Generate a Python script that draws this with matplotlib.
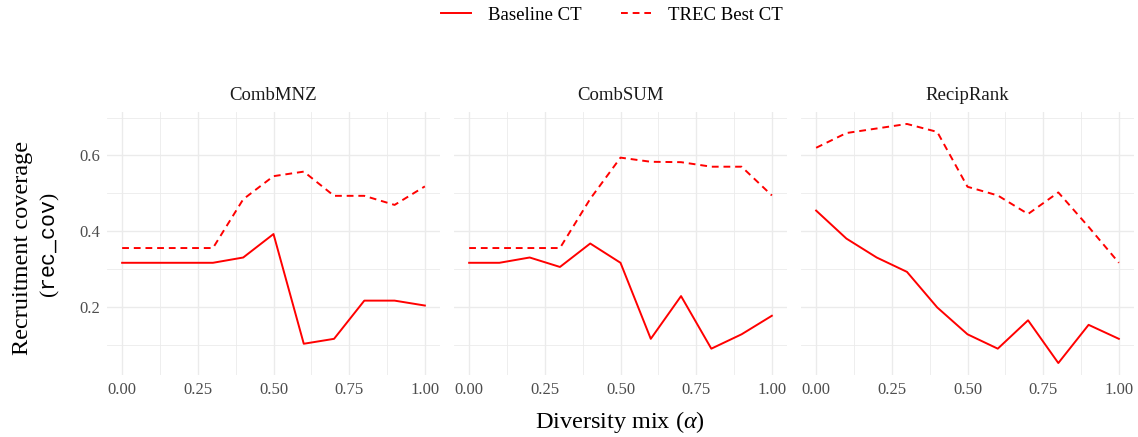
import matplotlib
matplotlib.use("Agg")
import matplotlib.pyplot as plt
from matplotlib.lines import Line2D
import numpy as np

plt.rcParams['font.family'] = ['Liberation Serif', 'DejaVu Serif']
plt.rcParams['mathtext.fontset'] = 'custom'
plt.rcParams['mathtext.rm'] = 'Liberation Serif'
plt.rcParams['mathtext.it'] = 'Liberation Serif:italic'
plt.rcParams['mathtext.tt'] = 'Liberation Mono'

alpha = [0.0, 0.1, 0.2, 0.3, 0.4, 0.5, 0.6, 0.7, 0.8, 0.9, 1.0]
panels = ["CombMNZ", "CombSUM", "RecipRank"]
series_names = ["Baseline CT", "TREC Best CT"]

combmnz_baseline = [0.316, 0.316, 0.316, 0.316, 0.330, 0.392, 0.102, 0.115, 0.216, 0.216, 0.203]
combmnz_trec = [0.355, 0.355, 0.355, 0.355, 0.484, 0.545, 0.557, 0.493, 0.493, 0.469, 0.518]
combsum_baseline = [0.316, 0.316, 0.330, 0.305, 0.367, 0.316, 0.115, 0.228, 0.089, 0.127, 0.176]
combsum_trec = [0.355, 0.355, 0.355, 0.355, 0.485, 0.594, 0.583, 0.582, 0.570, 0.570, 0.494]
reciprank_baseline = [0.454, 0.380, 0.330, 0.292, 0.198, 0.127, 0.089, 0.164, 0.051, 0.152, 0.115]
reciprank_trec = [0.620, 0.659, 0.671, 0.683, 0.662, 0.517, 0.494, 0.445, 0.502, 0.411, 0.316]

data = {
    "CombMNZ": (combmnz_baseline, combmnz_trec),
    "CombSUM": (combsum_baseline, combsum_trec),
    "RecipRank": (reciprank_baseline, reciprank_trec),
}

W, H = 1138, 437
fig = plt.figure(figsize=(W / 100, H / 100), dpi=100)

lefts = [107, 454, 801]
pw = 333
top, bottom = 112, 375
grid_col = '#EBEBEB'
tick_col = '#4D4D4D'
line_col = '#FF0000'
dash = (0, (3.5, 2.5))

allv = np.array(combmnz_baseline + combmnz_trec + combsum_baseline + combsum_trec + reciprank_baseline + reciprank_trec)
ymin, ymax = allv.min(), allv.max()
pad = (ymax - ymin) * 0.05

for i, name in enumerate(panels):
    ax = fig.add_axes([lefts[i] / W, 1 - bottom / H, pw / W, (bottom - top) / H])
    base, trec = data[name]
    ax.set_xlim(-0.05, 1.05)
    ax.set_ylim(ymin - pad, ymax + pad)
    ax.set_xticks([0, 0.25, 0.5, 0.75, 1.0])
    ax.set_xticks([0.125, 0.375, 0.625, 0.875], minor=True)
    ax.set_yticks([0.2, 0.4, 0.6])
    ax.set_yticks([0.1, 0.3, 0.5, 0.7], minor=True)
    ax.grid(True, which='major', color=grid_col, lw=1.0)
    ax.grid(True, which='minor', color=grid_col, lw=0.6)
    ax.set_axisbelow(True)
    for s in ax.spines.values():
        s.set_visible(False)
    ax.tick_params(which='both', length=0, labelsize=12, colors=tick_col, pad=5)
    ax.set_xticklabels(["0.00", "0.25", "0.50", "0.75", "1.00"])
    if i == 0:
        ax.set_yticklabels(["0.2", "0.4", "0.6"])
    else:
        ax.set_yticklabels([])
    ax.plot(alpha, base, color=line_col, lw=1.4, ls='-')
    ax.plot(alpha, trec, color=line_col, lw=1.4, ls=dash)
    ax.set_title(name, fontsize=13.5, color='#1A1A1A', pad=9)

fig.text(620 / W, 1 - 422 / H, r"Diversity mix ($\alpha$)", ha='center', va='center', fontsize=17.5, color='black')
fig.text(23 / W, 1 - 248 / H, "Recruitment coverage", rotation=90, ha='center', va='center', fontsize=17.5)
fig.text(50 / W, 1 - 245 / H, r"($\mathtt{rec\_cov}$)", rotation=90, ha='center', va='center', fontsize=15.5)

handles = [Line2D([0], [0], color=line_col, lw=1.4, ls='-'),
           Line2D([0], [0], color=line_col, lw=1.4, ls=dash)]
fig.legend(handles, series_names, loc='center', bbox_to_anchor=(612 / W, 1 - 15 / H), ncol=2,
           frameon=False, fontsize=13.5, handlelength=1.6, columnspacing=2.1, handletextpad=0.9)

fig.savefig("out.png", dpi=100)
